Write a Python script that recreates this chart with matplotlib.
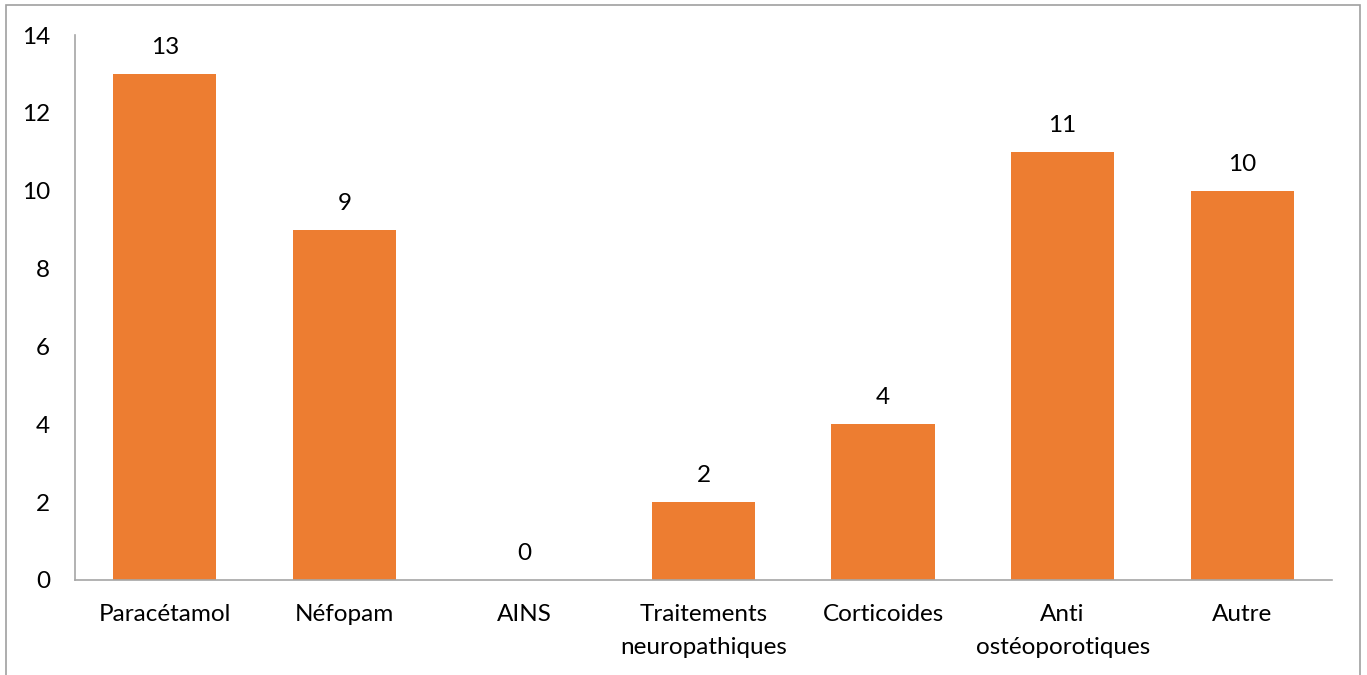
import matplotlib
matplotlib.use("Agg")
import matplotlib.pyplot as plt
from matplotlib.patches import Rectangle

categories = ["Paracétamol", "Néfopam", "AINS", "Traitements\nneuropathiques",
              "Corticoides", "Anti\nostéoporotiques", "Autre"]
values = [13, 9, 0, 2, 4, 11, 10]
yticks = [0, 2, 4, 6, 8, 10, 12, 14]

plt.rcParams['font.family'] = ['Lato', 'DejaVu Sans']
fig = plt.figure(figsize=(13.67, 6.75), dpi=100)
ax = fig.add_axes([75/1367, 95/675, (1332-75)/1367, (580-35)/675])

FS = 17.5
x = range(len(categories))
bars = ax.bar(x, values, width=0.575, color="#ED7D31")
ax.set_xlim(-0.5, len(categories) - 0.5)
ax.set_ylim(0, 14)
ax.set_yticks(yticks)
ax.set_yticklabels([str(t) for t in yticks], fontsize=FS)
ax.set_xticks(list(x))
ax.set_xticklabels(categories, fontsize=FS, linespacing=1.7, va="top")
ax.tick_params(axis="both", length=0)
ax.tick_params(axis="y", pad=18)
ax.tick_params(axis="x", pad=17)
for s in ["top", "right"]:
    ax.spines[s].set_visible(False)
for s in ["left", "bottom"]:
    ax.spines[s].set_color("#a6a6a6")
    ax.spines[s].set_linewidth(1.2)

for i, v in enumerate(values):
    ax.annotate(str(v), (i, v), xytext=(0, 16), textcoords="offset pixels",
                ha="center", va="bottom", fontsize=FS)

fig.patches.append(Rectangle((6/1367, -0.05), (1360-6)/1367, 1.05 - 5/675,
                             transform=fig.transFigure, fill=False,
                             edgecolor="#a0a0a0", linewidth=1.2))
fig.savefig("out.png", dpi=100)
